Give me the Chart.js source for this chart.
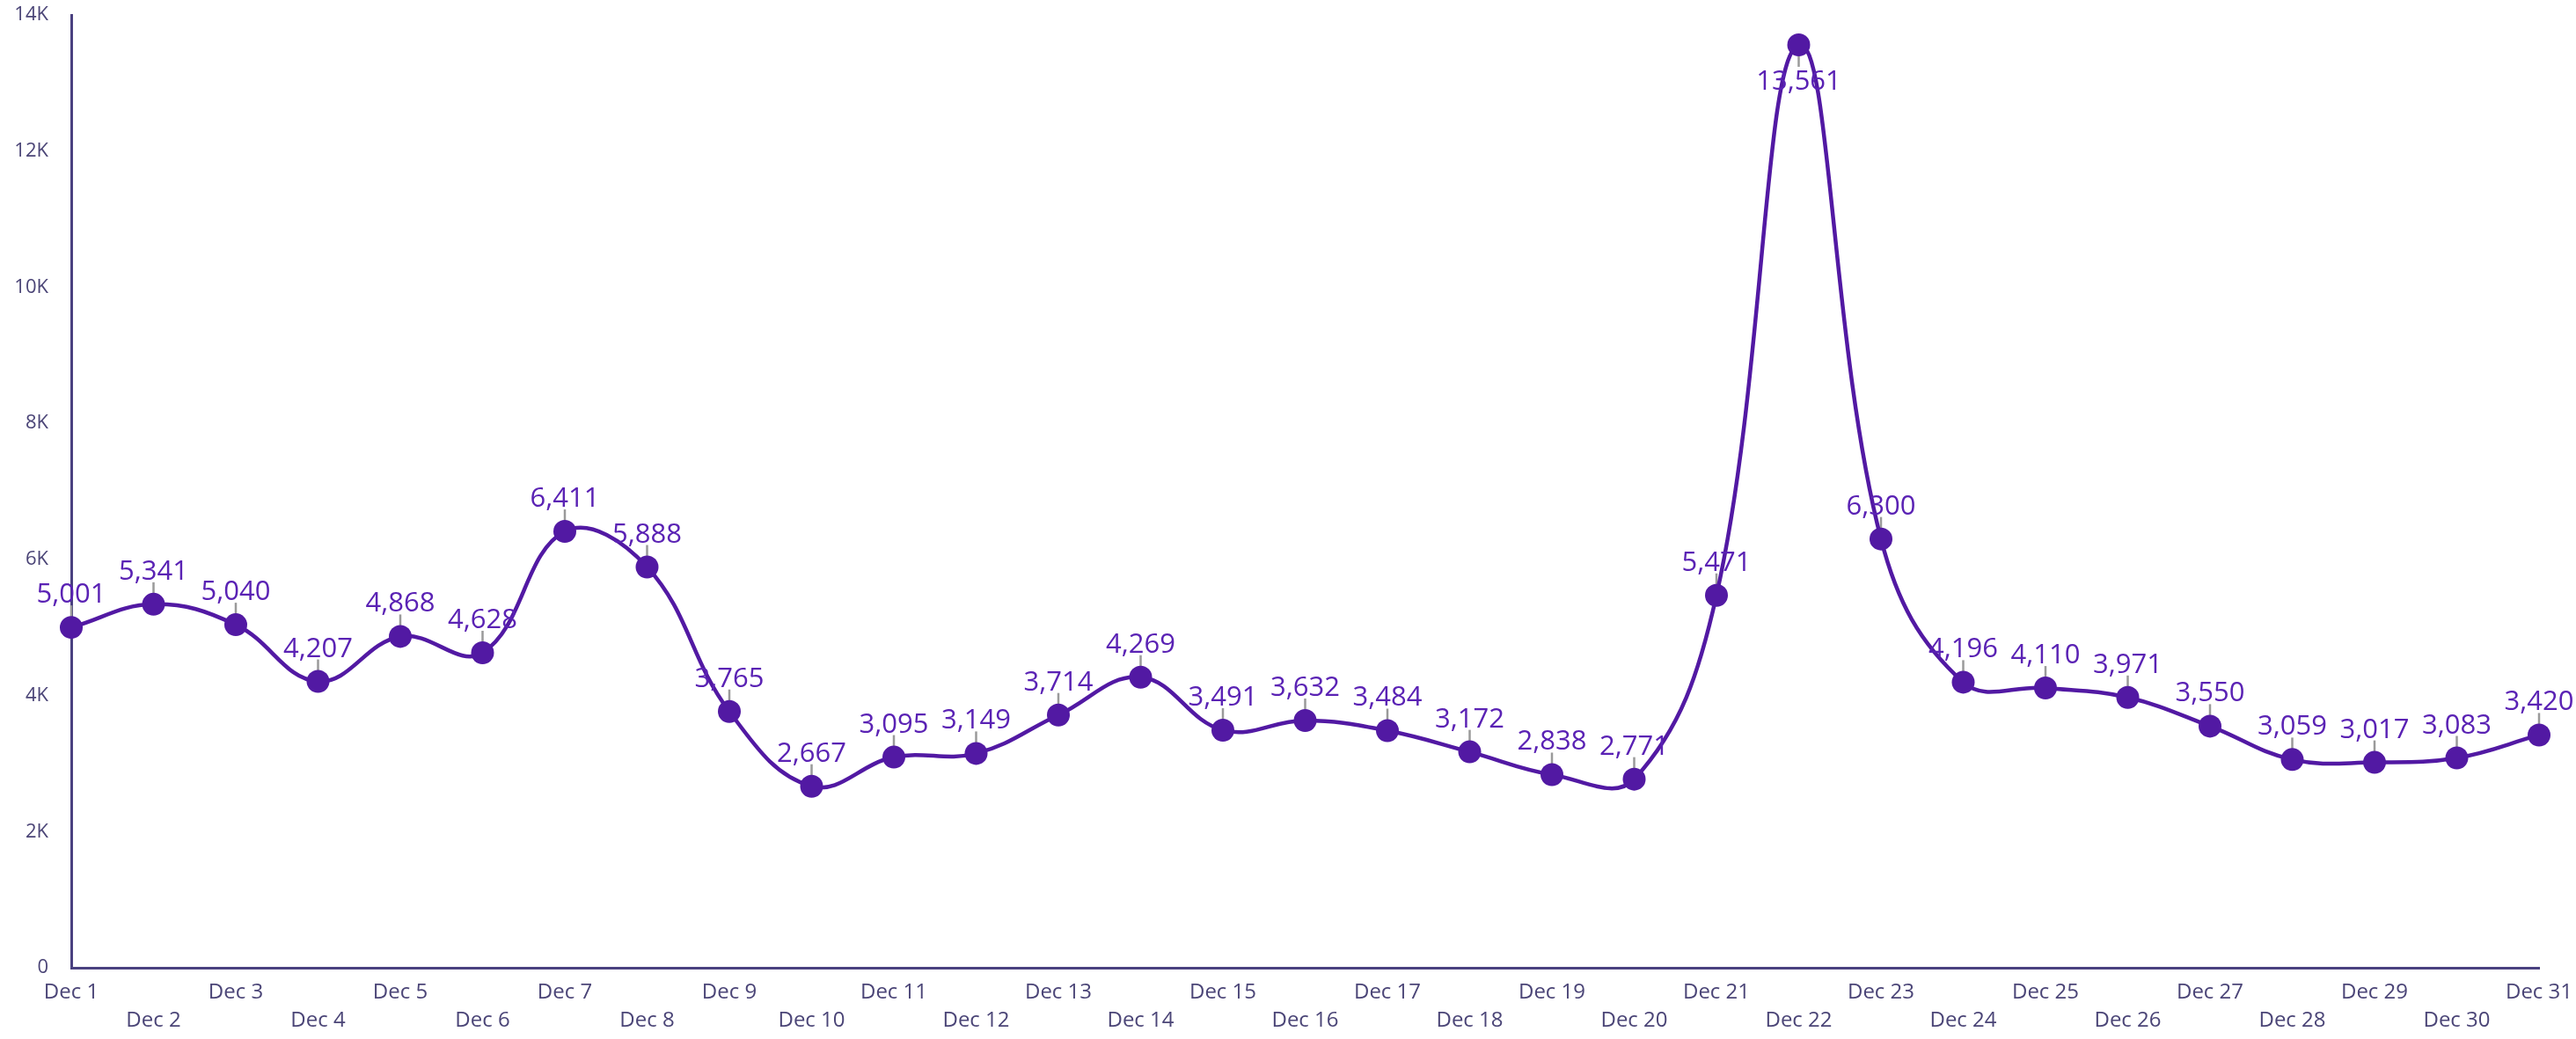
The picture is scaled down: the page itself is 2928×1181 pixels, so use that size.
<!DOCTYPE html>
<html>
<head>
<meta charset="utf-8">
<script src="https://cdn.jsdelivr.net/npm/chart.js@4.4.1/dist/chart.umd.min.js"></script>
<style>
  html, body { margin: 0; padding: 0; background: #ffffff; }
  #wrap { width: 2928px; height: 1181px; }
</style>
</head>
<body>
<div id="wrap"><canvas id="c" width="2928" height="1181"></canvas></div>
<script>
const categories = ['Dec 1','Dec 2','Dec 3','Dec 4','Dec 5','Dec 6','Dec 7','Dec 8','Dec 9','Dec 10',
  'Dec 11','Dec 12','Dec 13','Dec 14','Dec 15','Dec 16','Dec 17','Dec 18','Dec 19','Dec 20',
  'Dec 21','Dec 22','Dec 23','Dec 24','Dec 25','Dec 26','Dec 27','Dec 28','Dec 29','Dec 30','Dec 31'];
const values = [5001, 5341, 5040, 4207, 4868, 4628, 6411, 5888, 3765, 2667,
  3095, 3149, 3714, 4269, 3491, 3632, 3484, 3172, 2838, 2771,
  5471, 13561, 6300, 4196, 4110, 3971, 3550, 3059, 3017, 3083, 3420];
const yTicks = [0, 2000, 4000, 6000, 8000, 10000, 12000, 14000];
const yTickLabels = ['0', '2K', '4K', '6K', '8K', '10K', '12K', '14K'];

const FONT = '"Open Sans", Lato, sans-serif';
const LINE_COLOR = '#5219a3';
const LABEL_COLOR = '#5a22b4';
const AXIS_COLOR = '#4a4180';
const TICK_COLOR = '#4b4577';

function isBelow(chart, pt) { return pt.y - 55 < chart.chartArea.top; }

const valueLabels = {
  id: 'valueLabels',
  beforeDatasetsDraw(chart) {
    const ctx = chart.ctx;
    const meta = chart.getDatasetMeta(0);
    ctx.save();
    ctx.strokeStyle = '#9a9a9a';
    ctx.lineWidth = 2.5;
    meta.data.forEach((pt) => {
      const below = isBelow(chart, pt);
      ctx.beginPath();
      ctx.moveTo(pt.x, pt.y);
      ctx.lineTo(pt.x, below ? pt.y + 25 : pt.y - 25);
      ctx.stroke();
    });
    ctx.restore();
  },
  afterDatasetsDraw(chart) {
    const ctx = chart.ctx;
    const meta = chart.getDatasetMeta(0);
    ctx.save();
    ctx.font = '400 31px ' + FONT;
    ctx.fillStyle = LABEL_COLOR;
    ctx.textAlign = 'center';
    ctx.textBaseline = 'alphabetic';
    meta.data.forEach((pt, i) => {
      const txt = values[i].toLocaleString('en-US');
      if (isBelow(chart, pt)) {
        ctx.fillText(txt, pt.x, pt.y + 51);
      } else {
        ctx.fillText(txt, pt.x, pt.y - 28);
      }
    });
    ctx.restore();
  }
};

new Chart(document.getElementById('c'), {
  type: 'line',
  data: {
    labels: categories,
    datasets: [{
      data: values,
      borderColor: LINE_COLOR,
      backgroundColor: LINE_COLOR,
      borderWidth: 4.5,
      tension: 0.4,
      pointRadius: 13,
      pointHoverRadius: 13,
      pointBackgroundColor: LINE_COLOR,
      pointBorderWidth: 0,
      fill: false,
      clip: false
    }]
  },
  options: {
    responsive: false,
    animation: false,
    devicePixelRatio: 1,
    layout: { padding: 0 },
    plugins: { legend: { display: false }, tooltip: { enabled: false } },
    scales: {
      x: {
        grid: { display: false, drawTicks: false },
        border: { display: true, color: AXIS_COLOR, width: 3 },
        afterFit(scale) { scale.height = 81; scale.paddingRight = 42; scale.paddingLeft = 0; },
        ticks: {
          autoSkip: false,
          maxRotation: 0,
          minRotation: 0,
          padding: 12,
          color: TICK_COLOR,
          font: { family: FONT, size: 24, lineHeight: 1.333 },
          callback(v, i) { return i % 2 === 1 ? ['', categories[i]] : categories[i]; }
        }
      },
      y: {
        min: 0,
        max: 14000,
        afterFit(scale) { scale.width = 81; scale.paddingTop = 17; scale.paddingBottom = 0; },
        afterBuildTicks(scale) { scale.ticks = yTicks.map(v => ({ value: v })); },
        grid: { display: false, drawTicks: false },
        border: { display: true, color: AXIS_COLOR, width: 3 },
        ticks: {
          padding: 26,
          color: TICK_COLOR,
          font: { family: FONT, size: 22 },
          callback(v) { const k = yTicks.indexOf(v); return k >= 0 ? yTickLabels[k] : ''; }
        }
      }
    }
  },
  plugins: [valueLabels]
});
</script>
</body>
</html>
